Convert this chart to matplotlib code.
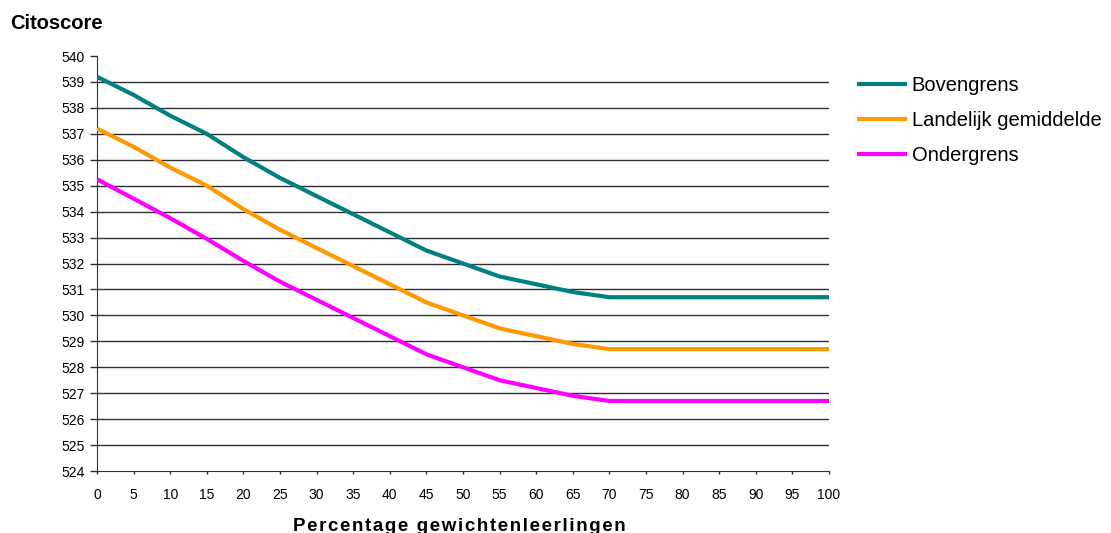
import numpy as np
import matplotlib.pyplot as plt

plt.rcParams['font.family'] = ['Liberation Sans', 'DejaVu Sans']

# percentage gewichtenleerlingen
pct = [0, 5, 10, 15, 20, 25, 30, 35, 40, 45, 50, 55, 60, 65, 70, 75, 80, 85, 90, 95, 100]
bovengrens = [539.2, 538.5, 537.7, 537.0, 536.1, 535.3, 534.6, 533.9, 533.2, 532.5, 532.0,
              531.5, 531.2, 530.9, 530.7, 530.7, 530.7, 530.7, 530.7, 530.7, 530.7]
landelijk = [537.2, 536.5, 535.7, 535.0, 534.1, 533.3, 532.6, 531.9, 531.2, 530.5, 530.0,
             529.5, 529.2, 528.9, 528.7, 528.7, 528.7, 528.7, 528.7, 528.7, 528.7]
ondergrens = [535.25, 534.5, 533.75, 532.95, 532.1, 531.3, 530.6, 529.9, 529.2, 528.5, 528.0,
              527.5, 527.2, 526.9, 526.7, 526.7, 526.7, 526.7, 526.7, 526.7, 526.7]

series = [('Bovengrens', bovengrens, '#008080'),
          ('Landelijk gemiddelde', landelijk, '#FF9900'),
          ('Ondergrens', ondergrens, '#FF00FF')]

fig = plt.figure(figsize=(11.11, 5.33), dpi=100)
ax = fig.add_axes([0.0873, 0.1163, 0.6589, 0.7786])

for y in range(525, 540):
    ax.axhline(y, color='#303030', lw=1, zorder=1)

for name, vals, col in series:
    ax.plot(pct, vals, color=col, lw=3, label=name, zorder=3, solid_capstyle='butt')

ax.set_xlim(0, 100)
ax.set_ylim(524, 540)
ax.set_xticks(pct)
ax.set_yticks(range(524, 541))
ax.tick_params(axis='both', labelsize=10, width=1, color='#303030')
ax.tick_params(axis='y', length=5, pad=4)
ax.tick_params(axis='x', length=2.5, pad=10)
for s in ['top', 'right']:
    ax.spines[s].set_visible(False)
for s in ['left', 'bottom']:
    ax.spines[s].set_color('#303030')

fig.text(0.009, 0.956, 'Citoscore', fontsize=14.5, fontweight='bold', va='center', ha='left')
# letter-spaced axis title near the bottom edge like the original
xlab_txt = '\u200a'.join('Percentage gewichtenleerlingen')
fig.text(0.413, 0.004, xlab_txt, fontsize=13.5, fontweight='bold', ha='center', va='baseline')

fig.legend(loc='upper left', bbox_to_anchor=(0.771, 0.857), frameon=False, fontsize=14.5,
           handlelength=2.5, handletextpad=0.24, labelspacing=0.78, borderaxespad=0,
           borderpad=0)

fig.savefig('out.png', dpi=100)
